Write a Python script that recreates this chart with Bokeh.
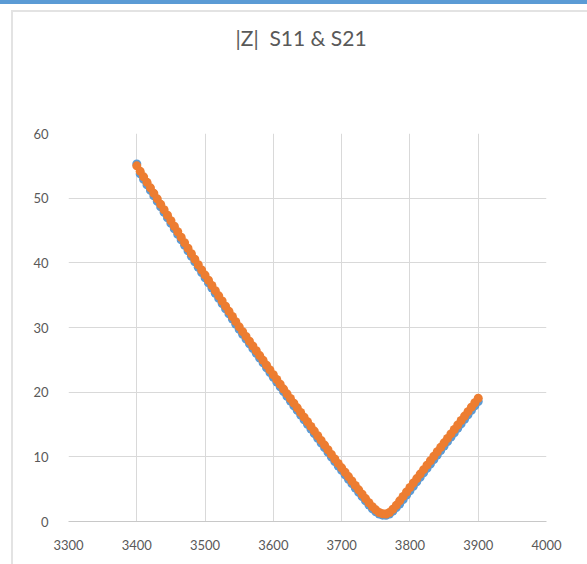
from bokeh.plotting import figure
from bokeh.models import FixedTicker, Range1d, InlineStyleSheet, Title
from bokeh.embed import file_html
from bokeh.resources import INLINE

# frequency sweep (MHz), 5 MHz steps
freq = list(range(3400, 3901, 5))

# |Z| from S11
z_s11 = [
    55.3, 53.75, 52.9, 52.05, 51.2, 50.35, 49.5, 48.65, 47.8, 46.95,
    46.1, 45.25, 44.4, 43.55, 42.7, 41.85, 41.0, 40.15, 39.3, 38.5,
    37.7, 36.9, 36.1, 35.3, 34.5, 33.7, 32.9, 32.1, 31.3, 30.5,
    29.7, 28.96, 28.22, 27.48, 26.74, 26.0, 25.26, 24.52, 23.78, 23.04,
    22.3, 21.56, 20.82, 20.08, 19.34, 18.62, 17.9, 17.18, 16.46, 15.74,
    15.02, 14.3, 13.58, 12.86, 12.14, 11.42, 10.7, 9.98, 9.26, 8.58,
    7.9, 7.22, 6.54, 5.86, 5.18, 4.5, 3.84, 3.18, 2.56, 1.98,
    1.5, 1.15, 0.98, 0.95, 1.15, 1.6, 2.15, 2.69, 3.38, 4.07,
    4.76, 5.45, 6.14, 6.83, 7.52, 8.21, 8.9, 9.59, 10.28, 10.97,
    11.66, 12.35, 13.04, 13.73, 14.42, 15.11, 15.8, 16.49, 17.18, 17.87,
    18.56,
]

# |Z| from S21
z_s21 = [
    55.0, 54.15, 53.3, 52.45, 51.6, 50.75, 49.9, 49.05, 48.2, 47.35,
    46.5, 45.65, 44.8, 43.95, 43.1, 42.25, 41.4, 40.55, 39.7, 38.9,
    38.1, 37.3, 36.5, 35.7, 34.9, 34.1, 33.3, 32.5, 31.7, 30.9,
    30.1, 29.36, 28.62, 27.88, 27.14, 26.4, 25.66, 24.92, 24.18, 23.44,
    22.7, 21.96, 21.22, 20.48, 19.74, 19.02, 18.3, 17.58, 16.86, 16.14,
    15.42, 14.7, 13.98, 13.26, 12.54, 11.82, 11.1, 10.38, 9.66, 8.98,
    8.3, 7.62, 6.94, 6.26, 5.58, 4.9, 4.22, 3.54, 2.9, 2.3,
    1.8, 1.4, 1.2, 1.15, 1.4, 1.9, 2.5, 3.19, 3.88, 4.57,
    5.26, 5.95, 6.64, 7.33, 8.02, 8.71, 9.4, 10.09, 10.78, 11.47,
    12.16, 12.85, 13.54, 14.23, 14.92, 15.61, 16.3, 16.99, 17.68, 18.37,
    19.06,
]

x_ticks = [3300, 3400, 3500, 3600, 3700, 3800, 3900, 4000]
y_ticks = [0, 10, 20, 30, 40, 50, 60]

TEXT = "#595959"
GRID = "#D9D9D9"
FONT = "Lato"

# blue window band along the top and the chart-area border
frame_css = InlineStyleSheet(css="""
:host { position: relative; }
:host::before {
  content: ""; position: absolute; left: 0; top: 0; width: 100%; height: 4px;
  background: #5B9BD5; z-index: 10; pointer-events: none;
}
:host::after {
  content: ""; position: absolute; left: 11px; top: 10px; right: 0; bottom: 0;
  border-left: 2px solid #E3E3E3; border-top: 2px solid #E3E3E3;
  z-index: 10; pointer-events: none;
}
""")

p = figure(
    width=587, height=564,
    output_backend="svg", toolbar_location=None,
    x_range=Range1d(3300, 4000), y_range=Range1d(0, 60),
    min_border_left=68, min_border_right=41,
    min_border_top=133, min_border_bottom=43,
    stylesheets=[frame_css],
)
# chart title (non-breaking space keeps the wide gap after |Z|)
p.title.text = "|Z|\u00a0 S11 & S21"
p.title.align = "left"
p.title.offset = 167
p.title.text_font = FONT
p.title.text_font_size = "21px"
p.title.text_font_style = "normal"
p.title.text_color = TEXT
p.title.standoff = 10

# empty band between the title and the plot area
p.add_layout(Title(text=" ", text_font_size="1px", standoff=76,
                   text_color="white"), "above")

p.outline_line_color = None
p.background_fill_color = "white"
p.border_fill_color = "white"

p.xaxis.ticker = FixedTicker(ticks=x_ticks)
p.yaxis.ticker = FixedTicker(ticks=y_ticks)
for ax in (p.xaxis[0], p.yaxis[0]):
    ax.major_tick_line_color = None
    ax.minor_tick_line_color = None
    ax.major_label_text_color = TEXT
    ax.major_label_text_font = FONT
    ax.major_label_text_font_size = "13px"
p.yaxis.axis_line_color = None
p.xaxis.axis_line_color = "#C8C8C8"
p.xaxis.major_label_standoff = 12
p.yaxis.major_label_standoff = 14

p.xgrid.grid_line_color = GRID
p.ygrid.grid_line_color = GRID

p.scatter(freq, z_s11, size=9, color="#5B9BD5", line_color=None)
p.scatter(freq, z_s21, size=9, color="#ED7D31", line_color=None)

open("out.html", "w").write(file_html(p, INLINE))
